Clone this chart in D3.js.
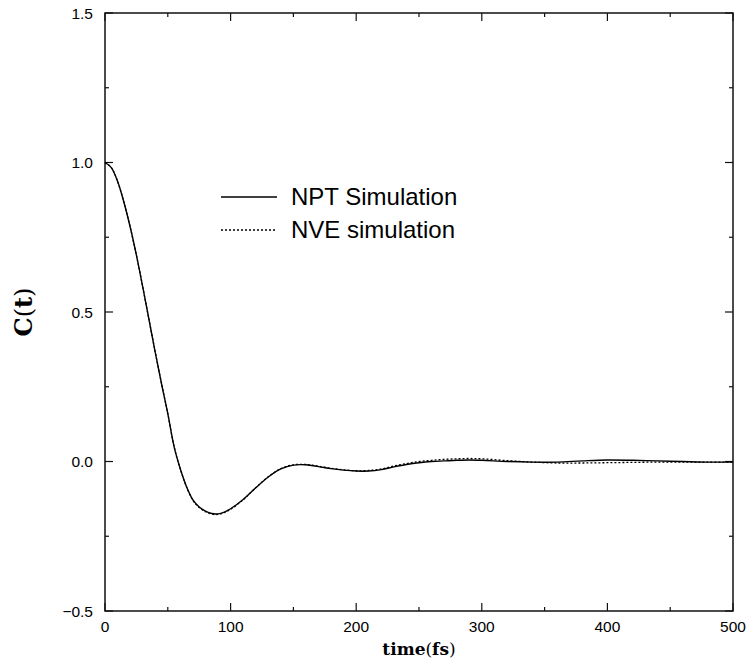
<!DOCTYPE html>
<html>
<head>
<meta charset="utf-8">
<script src="https://cdn.jsdelivr.net/npm/d3@7"></script>
<style>
  body { margin: 0; background: #fff; }
  svg { display: block; }
  .tick-label { font-family: "Liberation Sans", Arial, sans-serif; font-size: 15.5px; fill: #000; }
  .legend-label { font-family: "Liberation Sans", Arial, sans-serif; font-size: 24px; fill: #000; }
  .axis-title { font-family: "DejaVu Serif", "Liberation Serif", serif; fill: #000; }
</style>
</head>
<body>
<svg id="chart" width="747" height="667"></svg>
<script>
// time (fs)
var times = [0, 5, 10, 15, 20, 25, 30, 35, 40, 45, 50, 55, 60, 65, 70, 75, 80, 85, 90, 95, 100,
    110, 120, 130, 140, 150, 160, 170, 180, 190, 200, 210, 220, 230, 240, 250, 260, 270, 280, 290, 300,
    320, 340, 360, 380, 400, 420, 440, 460, 480, 500];

var nptValues = [1.000, 0.983, 0.937, 0.868, 0.785, 0.690, 0.585, 0.475, 0.365, 0.260, 0.160, 0.050, -0.025, -0.085, -0.128, -0.152, -0.166, -0.174, -0.175, -0.169, -0.158,
    -0.127, -0.088, -0.052, -0.025, -0.012, -0.011, -0.017, -0.024, -0.029, -0.032, -0.032, -0.027, -0.018, -0.010, -0.004, 0.000, 0.002, 0.004, 0.005, 0.004,
    0.000, -0.002, -0.002, 0.002, 0.005, 0.004, 0.002, 0.000, -0.002, -0.002];

var nveValues = [1.000, 0.983, 0.937, 0.868, 0.785, 0.690, 0.585, 0.475, 0.366, 0.261, 0.160, 0.050, -0.026, -0.086, -0.130, -0.154, -0.168, -0.176, -0.177, -0.171, -0.160,
    -0.128, -0.088, -0.051, -0.024, -0.011, -0.010, -0.016, -0.023, -0.028, -0.031, -0.030, -0.025, -0.015, -0.007, 0.000, 0.004, 0.007, 0.009, 0.010, 0.009,
    0.003, -0.002, -0.005, -0.005, -0.004, -0.003, -0.002, -0.002, -0.002, -0.002];

var seriesNames = ["NPT Simulation", "NVE simulation"];
var xTicks = [0, 100, 200, 300, 400, 500];
var xMinorTicks = [50, 150, 250, 350, 450];
var yTicks = [-0.5, 0.0, 0.5, 1.0, 1.5];
var yMinorTicks = [-0.25, 0.25, 0.75, 1.25];

var svg = d3.select("#chart");
var margin = { left: 105, right: 14, top: 13, bottom: 56 };
var width = 747 - margin.left - margin.right,
    height = 667 - margin.top - margin.bottom;

var x = d3.scaleLinear().domain([0, 500]).range([0, width]);
var y = d3.scaleLinear().domain([-0.5, 1.5]).range([height, 0]);

var g = svg.append("g").attr("transform", "translate(" + margin.left + "," + margin.top + ")");

// ticks on all four sides, pointing inward
function drawTicks(vals, len) {
    vals.forEach(function(v) {
        var px = x(v);
        g.append("line").attr("x1", px).attr("x2", px).attr("y1", height).attr("y2", height - len)
            .attr("stroke", "#111").attr("stroke-width", 1.2);
        g.append("line").attr("x1", px).attr("x2", px).attr("y1", 0).attr("y2", len)
            .attr("stroke", "#111").attr("stroke-width", 1.2);
    });
}
function drawYTicks(vals, len) {
    vals.forEach(function(v) {
        var py = y(v);
        g.append("line").attr("x1", 0).attr("x2", len).attr("y1", py).attr("y2", py)
            .attr("stroke", "#111").attr("stroke-width", 1.2);
        g.append("line").attr("x1", width).attr("x2", width - len).attr("y1", py).attr("y2", py)
            .attr("stroke", "#111").attr("stroke-width", 1.2);
    });
}
drawTicks(xTicks, 8);
drawTicks(xMinorTicks, 4);
drawYTicks(yTicks, 8);
drawYTicks(yMinorTicks, 4);

g.append("rect")
    .attr("width", width).attr("height", height)
    .attr("fill", "none").attr("stroke", "#111").attr("stroke-width", 1.5);

// tick labels
g.selectAll(".xlab").data(xTicks).enter().append("text")
    .attr("class", "tick-label")
    .attr("x", function(d) { return x(d); })
    .attr("y", height + 21)
    .attr("text-anchor", "middle")
    .text(function(d) { return d3.format("d")(d); });

g.selectAll(".ylab").data(yTicks).enter().append("text")
    .attr("class", "tick-label")
    .attr("x", -12)
    .attr("y", function(d) { return y(d); })
    .attr("dy", "0.36em")
    .attr("text-anchor", "end")
    .text(function(d) { return d < 0 ? "\u2212" + d3.format(".1f")(-d) : d3.format(".1f")(d); });

// curves
var line = d3.line()
    .x(function(d) { return x(d[0]); })
    .y(function(d) { return y(d[1]); })
    .curve(d3.curveCatmullRom);

var npt = times.map(function(t, i) { return [t, nptValues[i]]; });
var nve = times.map(function(t, i) { return [t, nveValues[i]]; });

g.append("path").datum(nve)
    .attr("d", line).attr("fill", "none")
    .attr("stroke", "#000").attr("stroke-width", 1.3).attr("stroke-dasharray", "2,2");

g.append("path").datum(npt)
    .attr("d", line).attr("fill", "none")
    .attr("stroke", "#000").attr("stroke-width", 1.4);

// legend
var legend = svg.append("g").attr("transform", "translate(221,197)");
seriesNames.forEach(function(name, i) {
    var row = legend.append("g").attr("transform", "translate(0," + (i * 33) + ")");
    row.append("line").attr("x1", 0).attr("x2", 56).attr("y1", 0).attr("y2", 0)
        .attr("stroke", "#000").attr("stroke-width", 1.3)
        .attr("stroke-dasharray", i === 1 ? "2,2" : null);
    row.append("text").attr("class", "legend-label")
        .attr("x", 70).attr("y", 8).text(name);
});

// axis titles
var xt = svg.append("text").attr("class", "axis-title")
    .attr("x", margin.left + width / 2).attr("y", 655)
    .attr("text-anchor", "middle").attr("font-size", 17);
xt.append("tspan").attr("font-weight", "bold").text("time");
xt.append("tspan").text("(");
xt.append("tspan").attr("font-weight", "bold").text("fs");
xt.append("tspan").text(")");

var yt = svg.append("text").attr("class", "axis-title")
    .attr("transform", "translate(32," + (margin.top + y(0.5)) + ") rotate(-90)")
    .attr("text-anchor", "middle").attr("font-size", 24);
yt.append("tspan").attr("font-weight", "bold").text("C");
yt.append("tspan").text("(");
yt.append("tspan").attr("font-weight", "bold").text("t");
yt.append("tspan").text(")");
</script>
</body>
</html>
